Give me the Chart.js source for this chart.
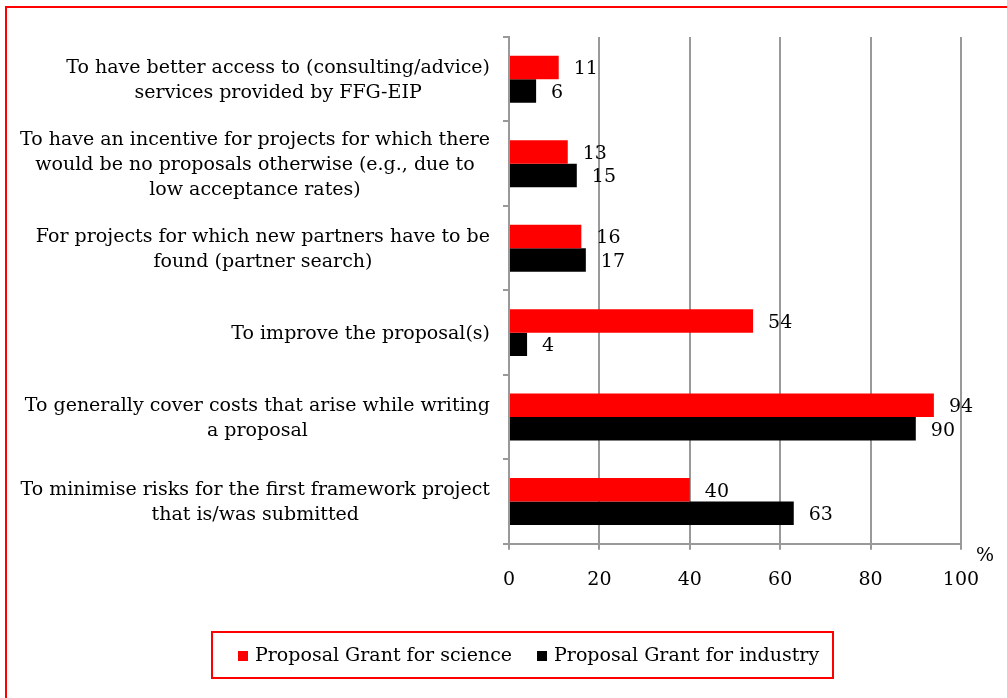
<!DOCTYPE html>
<html>
<head>
<meta charset="utf-8">
<script src="https://cdn.jsdelivr.net/npm/chart.js@4/dist/chart.umd.min.js"></script>
<style>
  html, body { margin: 0; padding: 0; background: #fff; overflow: hidden; }
  canvas { display: block; }
</style>
</head>
<body>
<canvas id="chart" width="1007" height="698"></canvas>
<script>
// Reasons for applying, one entry per bar group (each entry is a list of wrapped lines)
const categories = [
  ["To have better access to (consulting/advice)", "services provided by FFG-EIP"],
  ["To have an incentive for projects for which there", "would be no proposals otherwise (e.g., due to", "low acceptance rates)"],
  ["For projects for which new partners have to be", "found (partner search)"],
  ["To improve the proposal(s)"],
  ["To generally cover costs that arise while writing", "a proposal"],
  ["To minimise risks for the first framework project", "that is/was submitted"]
];
const seriesNames = ["Proposal Grant for science", "Proposal Grant for industry"];
const scienceValues = [11, 13, 16, 54, 94, 40];
const industryValues = [6, 15, 17, 4, 90, 63];
const xTickValues = [0, 20, 40, 60, 80, 100];
const unitLabel = "%";

const FONT = '"DejaVu Serif", "Liberation Serif", serif';
const FONT_SIZE = 19;
const LINE = 25;
const GRID = '#999999';
const RED = '#ff0000';
const BLACK = '#000000';

// White page with the red frame that runs off the right and bottom edges
const framePlugin = {
  id: 'frame',
  beforeDraw(chart) {
    const ctx = chart.ctx;
    ctx.save();
    ctx.fillStyle = '#fff';
    ctx.fillRect(0, 0, chart.width, chart.height);
    ctx.strokeStyle = RED;
    ctx.lineWidth = 2;
    ctx.strokeRect(6, 7, 2000, 2000);
    ctx.restore();
  }
};

// Multi-line category labels: block right-aligned to the axis, lines centred within the block
const categoryLabelPlugin = {
  id: 'categoryLabels',
  afterDraw(chart) {
    const ctx = chart.ctx;
    const yScale = chart.scales.y;
    ctx.save();
    ctx.font = `${FONT_SIZE}px ${FONT}`;
    ctx.fillStyle = '#000';
    ctx.textBaseline = 'middle';
    ctx.textAlign = 'center';
    const right = chart.chartArea.left - 19;
    chart.data.labels.forEach((lines, i) => {
      const cy = yScale.getPixelForValue(i);
      const widest = Math.max(...lines.map(l => ctx.measureText(l).width));
      const cx = right - widest / 2;
      const top = cy - (lines.length - 1) * LINE / 2;
      lines.forEach((l, k) => ctx.fillText(l, cx, top + k * LINE + 1));
    });
    // unit label beside the value axis
    ctx.fillText(unitLabel, chart.chartArea.right + 24, chart.chartArea.bottom + 12);
    ctx.restore();
  }
};

// Value labels just past the end of each bar
const valueLabelPlugin = {
  id: 'valueLabels',
  afterDatasetsDraw(chart) {
    const ctx = chart.ctx;
    ctx.save();
    ctx.font = `${FONT_SIZE}px ${FONT}`;
    ctx.fillStyle = '#000';
    ctx.textBaseline = 'middle';
    ctx.textAlign = 'left';
    chart.data.datasets.forEach((ds, di) => {
      chart.getDatasetMeta(di).data.forEach((bar, i) => {
        ctx.fillText(String(ds.data[i]), bar.x + 15, bar.y + 2);
      });
    });
    ctx.restore();
  }
};

// Boxed legend under the plot
const boxedLegendPlugin = {
  id: 'boxedLegend',
  afterDraw(chart) {
    const ctx = chart.ctx;
    const box = { x: 212, y: 632, w: 621, h: 46 };
    ctx.save();
    ctx.strokeStyle = RED;
    ctx.lineWidth = 2;
    ctx.strokeRect(box.x, box.y, box.w, box.h);
    ctx.font = `${FONT_SIZE}px ${FONT}`;
    ctx.textBaseline = 'middle';
    ctx.textAlign = 'left';
    const sq = 10, gapIn = 7, gapOut = 25;
    const items = chart.data.datasets.map(ds => ({ text: ds.label, color: ds.backgroundColor }));
    let x = box.x + 26;
    const cy = box.y + box.h / 2;
    items.forEach(it => {
      ctx.fillStyle = it.color;
      ctx.fillRect(x, cy - 4, sq, sq);
      ctx.fillStyle = '#000';
      ctx.fillText(it.text, x + sq + gapIn, cy + 1);
      x += sq + gapIn + ctx.measureText(it.text).width + gapOut;
    });
    ctx.restore();
  }
};

new Chart(document.getElementById('chart'), {
  type: 'bar',
  data: {
    labels: categories,
    datasets: [
      { label: seriesNames[0], data: scienceValues, backgroundColor: RED },
      { label: seriesNames[1], data: industryValues, backgroundColor: BLACK }
    ]
  },
  options: {
    indexAxis: 'y',
    responsive: false,
    animation: false,
    events: [],
    categoryPercentage: 0.556,
    barPercentage: 1.0,
    layout: { padding: { left: 503, top: 37, right: 46, bottom: 87 } },
    plugins: { legend: { display: false }, tooltip: { enabled: false } },
    scales: {
      y: {
        grid: { drawOnChartArea: false, drawTicks: true, tickLength: 6, color: GRID, lineWidth: 2, offset: true },
        border: { color: GRID, width: 2 },
        ticks: { display: false }
      },
      x: {
        min: 0,
        max: 100,
        afterBuildTicks: scale => { scale.ticks = xTickValues.map(v => ({ value: v })); },
        grid: { color: GRID, lineWidth: 2, tickLength: 6 },
        border: { color: GRID, width: 2 },
        ticks: {
          font: { family: FONT, size: FONT_SIZE, lineHeight: '25.2px' },
          color: '#000',
          padding: 18,
          maxRotation: 0
        }
      }
    }
  },
  plugins: [framePlugin, categoryLabelPlugin, valueLabelPlugin, boxedLegendPlugin]
});
</script>
</body>
</html>
